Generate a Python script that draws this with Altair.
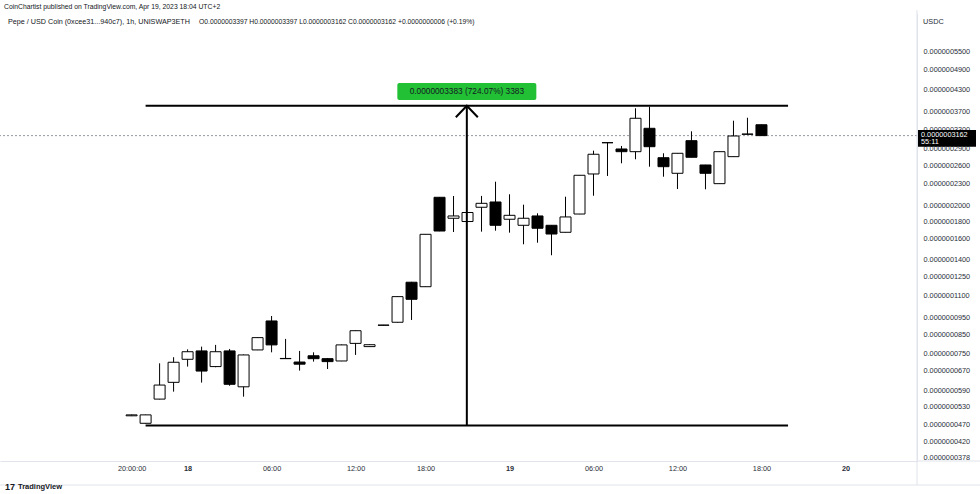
import altair as alt
import pandas as pd

FONT = "Liberation Sans"

# ---- 1h candles, PEPE / USDC (prices in units of 1e-10 USDC) ----
times = [
    "04-17 20:00", "04-17 21:00", "04-17 22:00", "04-17 23:00",
    "04-18 00:00", "04-18 01:00", "04-18 02:00", "04-18 03:00", "04-18 04:00",
    "04-18 05:00", "04-18 06:00", "04-18 07:00", "04-18 08:00", "04-18 09:00",
    "04-18 10:00", "04-18 11:00", "04-18 12:00", "04-18 13:00", "04-18 15:00",
    "04-18 16:00", "04-18 17:00", "04-18 18:00", "04-18 19:00", "04-18 20:00",
    "04-18 21:00", "04-18 22:00", "04-18 23:00",
    "04-19 00:00", "04-19 01:00", "04-19 02:00", "04-19 03:00", "04-19 04:00",
    "04-19 05:00", "04-19 06:00", "04-19 07:00", "04-19 08:00", "04-19 09:00",
    "04-19 10:00", "04-19 11:00", "04-19 12:00", "04-19 13:00", "04-19 14:00",
    "04-19 15:00", "04-19 16:00", "04-19 17:00", "04-19 18:00",
]
opens = [498, 474, 556, 621, 723, 764, 689, 764, 603, 769, 931, 727, 710, 740, 726, 715,
         803, 786, 906, 923, 1202, 1167, 2105, 1833, 1794, 1971, 2041, 1821, 1750, 1861,
         1750, 1671, 1885, 2455, 3018, 2895, 2844, 3318, 2733, 2466, 3058, 2605, 2303,
         2752, 3195, 3397]
highs = [502, 502, 704, 733, 772, 786, 795, 774, 746, 836, 962, 827, 764, 757, 729, 797,
         875, 797, 907, 1095, 1205, 1652, 2108, 2123, 1906, 2124, 2333, 2147, 2005, 1894,
         1752, 2113, 2436, 2863, 3020, 2953, 3786, 3826, 2814, 2816, 3253, 2607, 2846,
         3489, 3558, 3397]
lows = [497, 473, 555, 584, 689, 620, 686, 607, 565, 768, 757, 725, 671, 712, 678, 714,
        744, 785, 904, 921, 937, 1165, 1683, 1674, 1792, 1678, 1689, 1667, 1544, 1560,
        1436, 1669, 1883, 2127, 2423, 2634, 2705, 2576, 2411, 2223, 2739, 2219, 2301,
        2750, 3188, 3162]
closes = [501, 501, 610, 709, 760, 669, 760, 613, 744, 834, 795, 726, 700, 726, 712, 795,
          873, 796, 905, 1093, 1074, 1649, 1685, 1861, 1904, 2023, 1750, 1869, 1833, 1716,
          1652, 1849, 2434, 2796, 3017, 2844, 3545, 2939, 2576, 2814, 2741, 2466, 2844,
          3154, 3190, 3162]

# price-scale tick values and time-axis labels (bar index based)
price_ticks = [5500, 4900, 4300, 3700, 3300, 2900, 2600, 2300, 2000, 1800, 1600, 1400,
               1250, 1100, 950, 850, 750, 670, 590, 530, 470, 420, 378]
time_tick_idx = [0, 4, 10, 16, 21, 27, 33, 39, 45, 51]
time_tick_txt = ["20:00:00", "18", "06:00", "12:00", "18:00", "19", "06:00", "12:00", "18:00", "20"]
bold_ticks = [4, 27, 51]

# price-range drawing (bar index from/to, price low/high)
range_x = [1.0, 46.9]
range_lo = 467.2
range_hi = 3850.4
range_text = "0.0000003383 (724.07%) 3383"

header1 = "CoinChartist published on TradingView.com, Apr 19, 2023 18:04 UTC+2"
header2_text = ["Pepe / USD Coin (0xcee31...940c7), 1h, UNISWAP3ETH",
                "O0.0000003397  H0.0000003397  L0.0000003162  C0.0000003162  +0.0000000006 (+0.19%)"]
header2_x = [8, 199]
header2_size = [7.2, 6.75]
countdown = "55:11"

# ------------------------------------------------------------------
df = pd.DataFrame({"time": times, "open": opens, "high": highs, "low": lows, "close": closes})
df["idx"] = range(len(df))

W, H = 917, 448
xscale = alt.Scale(domain=[-9.045, 55.755], nice=False, zero=False)
yscale = alt.Scale(type="log", domain=[369.6, 7099.6], nice=False)

lab_expr = ""
for i, t in zip(time_tick_idx, time_tick_txt):
    lab_expr += f"datum.value == {i} ? '{t}' : "
lab_expr += "''"
bold_test = " || ".join(f"datum.value == {b}" for b in bold_ticks)

xaxis = alt.Axis(values=time_tick_idx, labelExpr=lab_expr, ticks=False, grid=False,
                 domainColor="#e0e3eb", labelPadding=3, labelFontSize=7.3,
                 labelColor="#2a2e39", labelFont=FONT, title=None, labelFlush=False,
                 labelOverlap=False,
                 labelFontWeight={"condition": {"test": bold_test, "value": "bold"},
                                  "value": "normal"})
yaxis = alt.Axis(orient="right", values=price_ticks,
                 labelExpr="format(datum.value * 1e-10, '.10f')", ticks=False, grid=False,
                 domainColor="#e0e3eb", labelPadding=6, labelFontSize=7.3,
                 labelColor="#2a2e39", labelFont=FONT, title=None, labelOverlap=False,
                 labelAlign="left", labelBaseline="middle")


def X(f):
    return alt.X(f, type="quantitative", scale=xscale, axis=xaxis)


def Y(f):
    return alt.Y(f, type="quantitative", scale=yscale, axis=yaxis)


last = df.tail(1).copy()
last["label"] = last["close"].map(lambda v: f"{v * 1e-10:.10f}")
last["cd"] = countdown

cur_line = alt.Chart(last).mark_rule(color="#9598a1", strokeDash=[2, 2], strokeWidth=1).encode(
    y=Y("close"))

wicks = alt.Chart(df).mark_rule(color="#000000", strokeWidth=1).encode(
    x=X("idx"), y=Y("low"), y2="high")

bodies = alt.Chart(df).mark_bar(size=11, stroke="#000000", strokeWidth=1).encode(
    x=X("idx"), y=Y("open"), y2="close",
    fill=alt.condition("datum.close >= datum.open", alt.value("#ffffff"), alt.value("#000000")))

rng = pd.DataFrame({"x1": [range_x[0]], "x2": [range_x[1]],
                    "mid": [(range_x[0] + range_x[1]) / 2], "lo": [range_lo], "hi": [range_hi],
                    "txt": [range_text]})

r_top = alt.Chart(rng).mark_rule(color="#000000", strokeWidth=2).encode(
    x=X("x1"), x2="x2", y=Y("hi"))
r_bot = alt.Chart(rng).mark_rule(color="#000000", strokeWidth=2).encode(
    x=X("x1"), x2="x2", y=Y("lo"))
r_mid = alt.Chart(rng).mark_rule(color="#000000", strokeWidth=2).encode(
    x=X("mid"), y=Y("lo"), y2="hi")
r_head = alt.Chart(rng).mark_point(shape="M -1 1.05 L 0 0 L 1 1.05", filled=False,
                                   stroke="#000000", strokeWidth=2, size=484, opacity=1).encode(
    x=X("mid"), y=Y("hi"))
r_box = alt.Chart(rng).mark_rect(color="#22c035", cornerRadius=2, xOffset=-69.5, x2Offset=69.5,
                                 yOffset=-22.7, y2Offset=-5.7).encode(
    x=X("mid"), x2="mid", y=Y("hi"), y2="hi")
r_txt = alt.Chart(rng).mark_text(fontSize=8.3, font=FONT, color="#131722", dy=-14.2).encode(
    x=X("mid"), y=Y("hi"), text="txt:N")

p_box = alt.Chart(last).mark_rect(color="#000000", yOffset=-5.6, y2Offset=11.1).encode(
    x=alt.value(918), x2=alt.value(976), y=Y("close"), y2="close")
p_txt = alt.Chart(last).mark_text(fontSize=7.3, font=FONT, color="#ffffff", align="left",
                                  dy=-1.1).encode(x=alt.value(921), y=Y("close"), text="label:N")
p_cd = alt.Chart(last).mark_text(fontSize=7.3, font=FONT, color="#ffffff", align="left",
                                 dy=6.6).encode(x=alt.value(921), y=Y("close"), text="cd:N")

hdr = pd.DataFrame({"t": [header1]})
h1 = alt.Chart(hdr).mark_text(fontSize=6.8, font=FONT, color="#131722", align="left",
                              baseline="middle").encode(
    x=alt.value(4), y=alt.value(-6), text="t:N")
h2df = pd.DataFrame({"t": header2_text, "px": header2_x, "fs": header2_size})
h2 = alt.Chart(h2df).mark_text(font=FONT, color="#131722", align="left",
                               baseline="middle").encode(
    x=alt.X("px:Q", scale=None, axis=None), y=alt.value(9), text="t:N",
    size=alt.Size("fs:Q", scale=None, legend=None))
usdc = alt.Chart(pd.DataFrame({"t": ["USDC"]})).mark_text(
    fontSize=7.3, font=FONT, color="#2a2e39", align="left", baseline="middle").encode(
    x=alt.value(923), y=alt.value(9), text="t:N")
footer = alt.Chart(pd.DataFrame({"t": ["TradingView"]})).mark_text(
    fontSize=7.5, font=FONT, fontWeight="bold", color="#131722", align="left",
    baseline="middle").encode(x=alt.value(18), y=alt.value(474), text="t:N")
logo = alt.Chart(pd.DataFrame({"t": ["17"]})).mark_text(
    fontSize=9, font=FONT, fontWeight="bold", color="#131722", align="left",
    baseline="middle").encode(x=alt.value(5), y=alt.value(474), text="t:N")

frame_v = alt.Chart(pd.DataFrame({"a": [0]})).mark_rule(color="#e0e3eb").encode(
    x=alt.value(917), y=alt.value(-3), y2=alt.value(472))
frame_h1 = alt.Chart(pd.DataFrame({"a": [0]})).mark_rule(color="#e0e3eb").encode(
    x=alt.value(917), x2=alt.value(980), y=alt.value(448))
frame_h2 = alt.Chart(pd.DataFrame({"a": [0]})).mark_rule(color="#e0e3eb").encode(
    x=alt.value(0), x2=alt.value(980), y=alt.value(472))

chart = alt.layer(
    cur_line, wicks, bodies, r_top, r_bot, r_mid, r_head, r_box, r_txt,
    frame_v, frame_h1, frame_h2, p_box, p_txt, p_cd, h1, h2, usdc, footer, logo
).properties(
    width=W, height=H,
    padding={"left": 0, "top": 13, "right": 63, "bottom": 33},
    autosize=alt.AutoSizeParams(type="none"),
    background="#ffffff",
).configure_view(stroke=None)

chart.save("out.html", embed_options={"renderer": "svg", "actions": False})
